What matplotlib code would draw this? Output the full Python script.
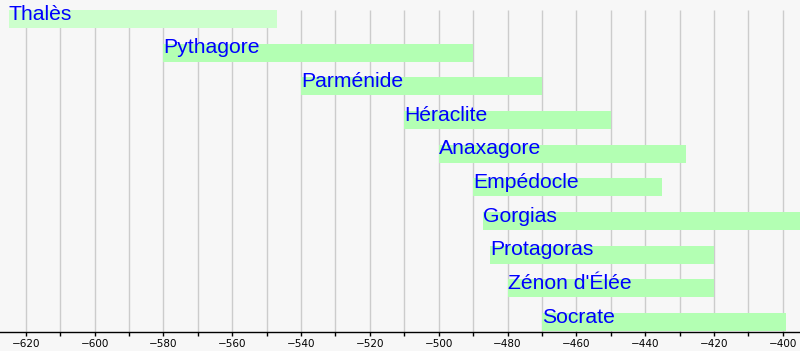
import numpy as np
import matplotlib
matplotlib.use("Agg")
import matplotlib.pyplot as plt

# philosophers, birth / death years (BC as negative)
names = ["Thalès", "Pythagore", "Parménide", "Héraclite", "Anaxagore",
         "Empédocle", "Gorgias", "Protagoras", "Zénon d'Élée", "Socrate"]
starts = [-625, -580, -540, -510, -500, -490, -487, -485, -480, -470]
ends = [-547, -490, -470, -450, -428, -435, -380, -420, -420, -399]
bar_colors = ["#ccffcc"] + ["#b3ffb3"] * 9

fig = plt.figure(figsize=(8, 3.51), dpi=100)
fig.patch.set_facecolor("#f7f7f7")
ax = fig.add_axes([0, 0.055, 1, 0.945])
ax.set_facecolor("#f7f7f7")

ypos = np.arange(len(names))
row_h = 0.535
ax.set_xlim(-627.5, -395)
ax.set_ylim(9.288, -0.564)

# vertical grid, every 10 years, from the axis up to the first bar
grid_x = np.arange(-620, -395, 10)
ax.vlines(grid_x, ymin=ax.get_ylim()[0], ymax=-row_h / 2,
          colors="#cccccc", linewidth=1, zorder=0)

ax.barh(ypos, np.array(ends) - np.array(starts), left=starts, height=row_h,
        color=bar_colors, zorder=1)

for y, s, n in zip(ypos, starts, names):
    ax.text(s, y + 0.02, n, color="#0000ff", fontsize=15.2,
            family=["Liberation Sans", "DejaVu Sans"], va="baseline",
            ha="left", zorder=2)

ax.set_xticks(np.arange(-620, -395, 20))
ax.set_xticks(np.arange(-610, -395, 20), minor=True)
ax.tick_params(axis="x", which="both", length=3, width=1, labelsize=7.5,
               pad=2, direction="out")
ax.set_yticks([])
for side in ["left", "right", "top"]:
    ax.spines[side].set_visible(False)
ax.spines["bottom"].set_linewidth(1)

fig.savefig("out.png", dpi=100, facecolor=fig.get_facecolor())
